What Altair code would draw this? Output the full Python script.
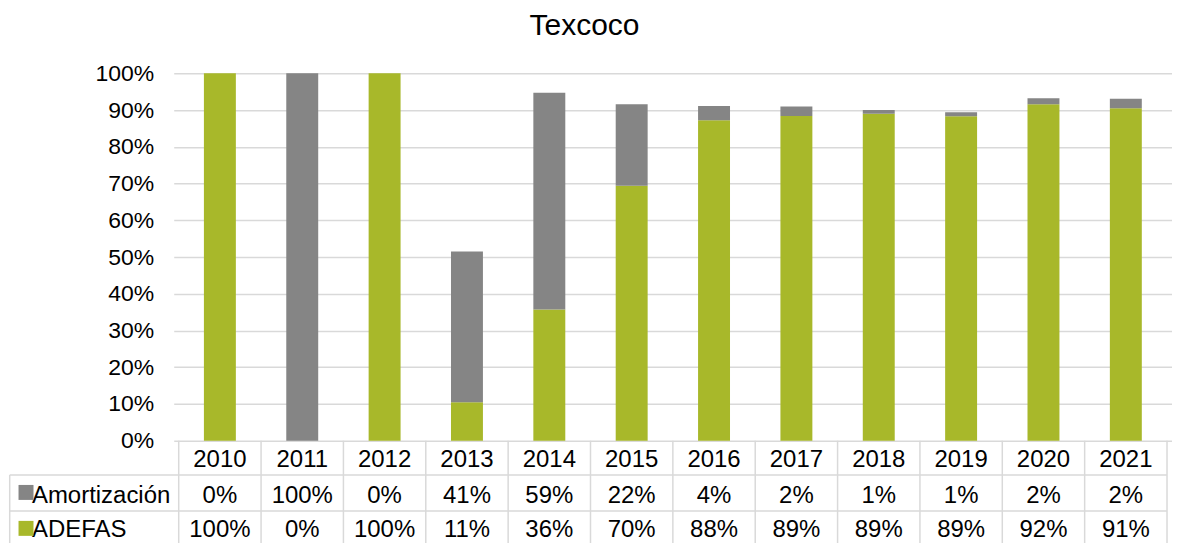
import altair as alt
import pandas as pd

# ---------------- data ----------------
years = ["2010", "2011", "2012", "2013", "2014", "2015",
         "2016", "2017", "2018", "2019", "2020", "2021"]
series_names = ["Amortización", "ADEFAS"]
# bar heights (percent)
adefas_vals = [100, 0, 100, 10.5, 35.7, 69.4, 87.2, 88.4, 89.0, 88.3, 91.6, 90.5]
amort_vals = [0, 100, 0, 41.0, 59.0, 22.2, 3.9, 2.6, 1.0, 1.1, 1.6, 2.6]
# table labels
amort_labels = ["0%", "100%", "0%", "41%", "59%", "22%", "4%", "2%", "1%", "1%", "2%", "2%"]
adefas_labels = ["100%", "0%", "100%", "11%", "36%", "70%", "88%", "89%", "89%", "89%", "92%", "91%"]
y_ticks = [0, 10, 20, 30, 40, 50, 60, 70, 80, 90, 100]
colors = ["#858585", "#A8B82A"]

# ---------------- layout (in scale units) ----------------
W, H = 1000, 368
n = len(years)
col_px = W / n
yu = H / 100.0
LEFT = -171 / col_px          # left border of the table
SQ_X = -154.5 / col_px        # legend square centre
TXT_X = -148.5 / col_px       # row label start
HDR_BASE = -26.6 / yu
AM_BASE = -62.0 / yu
AD_BASE = -96.0 / yu
AM_MID = -51.8 / yu
AD_MID = -87.8 / yu
LINE1 = -34.3 / yu
LINE2 = -70.3 / yu
BOTTOM = -102.5 / yu

FONT = "Liberation Sans"
xs = alt.Scale(domain=[0, n], nice=False, zero=False)
ys = alt.Scale(domain=[0, 100], nice=False, zero=False)
Y_AXIS = alt.Axis(values=y_ticks, labelExpr="datum.value + '%'", title=None,
                  domain=False, ticks=False, grid=True, gridColor="#D9D9D9",
                  gridWidth=1.5, labelFont=FONT, labelFontSize=23,
                  labelColor="#000000", labelPadding=20)

# bars
rows = []
for i, yr in enumerate(years):
    rows.append({"year": yr, "pos": i + 0.5, "series": "ADEFAS", "value": adefas_vals[i], "ord": 0})
    rows.append({"year": yr, "pos": i + 0.5, "series": "Amortización", "value": amort_vals[i], "ord": 1})
bars_df = pd.DataFrame(rows)

color = alt.Color("series:N", scale=alt.Scale(domain=series_names, range=colors), legend=None)

bars = alt.Chart(bars_df).mark_bar(size=32).encode(
    x=alt.X("pos:Q", scale=xs, axis=None),
    y=alt.Y("value:Q", stack="zero", scale=ys, axis=Y_AXIS),
    color=color,
    order=alt.Order("ord:Q"),
)

# table lines
segs = [
    {"x": LEFT, "x2": n, "y": LINE1, "y2": LINE1},
    {"x": LEFT, "x2": n, "y": LINE2, "y2": LINE2},
    {"x": LEFT, "x2": LEFT, "y": LINE1, "y2": BOTTOM},
]
for i in range(n + 1):
    segs.append({"x": i, "x2": i, "y": 0, "y2": BOTTOM})
lines = alt.Chart(pd.DataFrame(segs)).mark_rule(color="#D9D9D9", strokeWidth=1.5).encode(
    x=alt.X("x:Q", scale=xs, axis=None),
    x2="x2:Q",
    y=alt.Y("y:Q", scale=ys, axis=Y_AXIS),
    y2="y2:Q",
)

# table cells
cells = []
for i, yr in enumerate(years):
    cells.append({"pos": i + 0.5, "base": HDR_BASE, "label": yr})
    cells.append({"pos": i + 0.5, "base": AM_BASE, "label": amort_labels[i]})
    cells.append({"pos": i + 0.5, "base": AD_BASE, "label": adefas_labels[i]})
cell_text = alt.Chart(pd.DataFrame(cells)).mark_text(
    font=FONT, fontSize=24, baseline="alphabetic", align="center", color="#000000"
).encode(
    x=alt.X("pos:Q", scale=xs, axis=None),
    y=alt.Y("base:Q", scale=ys, axis=Y_AXIS),
    text="label:N",
)

# row labels with legend squares
row_df = pd.DataFrame({
    "series": series_names,
    "tx": [TXT_X, TXT_X],
    "sx": [SQ_X, SQ_X],
    "base": [AM_BASE, AD_BASE],
    "mid": [AM_MID, AD_MID],
})
row_text = alt.Chart(row_df).mark_text(
    font=FONT, fontSize=24, baseline="alphabetic", align="left", color="#000000"
).encode(
    x=alt.X("tx:Q", scale=xs, axis=None),
    y=alt.Y("base:Q", scale=ys, axis=Y_AXIS),
    text="series:N",
)
row_sq = alt.Chart(row_df).mark_square(size=225, opacity=1).encode(
    x=alt.X("sx:Q", scale=xs, axis=None),
    y=alt.Y("mid:Q", scale=ys, axis=Y_AXIS),
    color=color,
)

chart = alt.layer(bars, lines, cell_text, row_text, row_sq).properties(
    width=W, height=H,
    padding={"top": 3, "left": 0, "right": 0, "bottom": 0},
    title=alt.TitleParams("Texcoco", font=FONT, fontSize=30, fontWeight="normal",
                          color="#000000", anchor="middle", frame="bounds", offset=21, dx=-6),
).configure_view(stroke=None)

chart.save("out.html", embed_options={"renderer": "svg", "actions": False})
